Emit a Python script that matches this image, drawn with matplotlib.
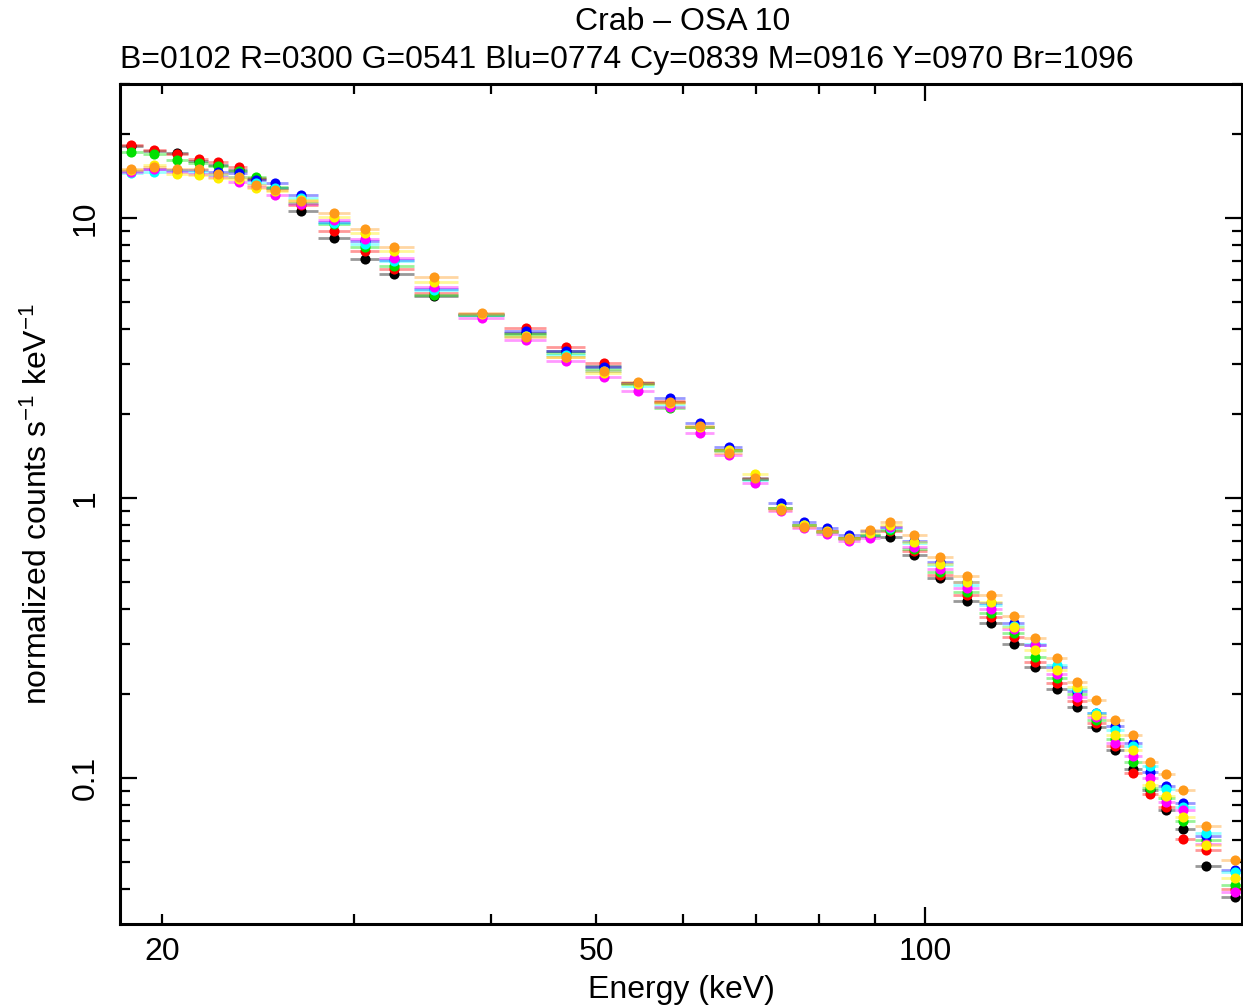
import numpy as np
import matplotlib
matplotlib.use("Agg")
import matplotlib.pyplot as plt
from matplotlib.ticker import FixedLocator, FuncFormatter, NullFormatter
from matplotlib.colors import to_rgba

plt.rcParams['font.family'] = ['Liberation Sans', 'DejaVu Sans']
plt.rcParams['mathtext.fontset'] = 'custom'
plt.rcParams['mathtext.rm'] = 'Liberation Sans'
plt.rcParams['mathtext.it'] = 'Liberation Sans:italic'
plt.rcParams['mathtext.bf'] = 'Liberation Sans:bold'

# ---------------- data ----------------
energy = [18.73, 19.67, 20.63, 21.6, 22.5, 23.5, 24.4, 25.4, 26.8, 28.76, 30.7, 32.6,
          35.5, 39.3, 43.1, 46.9, 50.8, 54.6, 58.4, 62.2, 66.1, 69.9, 73.8, 77.5,
          81.4, 85.3, 89.0, 92.9, 97.7, 103.3, 109.2, 115.0, 120.6, 126.3, 132.1,
          137.9, 143.6, 149.4, 155.3, 161.0, 166.5, 172.5, 181.0, 192.5]

black = [18.1, 17.4, 17.0, 16.0, 15.5, 14.8, 13.8, 12.8, 10.6, 8.5, 7.15, 6.3,
         5.25, 4.5, 3.9, 3.35, 2.95, 2.57, 2.2, 1.8, 1.48, 1.17, 0.92, 0.80,
         0.76, 0.72, 0.73, 0.724, 0.626, 0.516, 0.43, 0.357, 0.301, 0.25, 0.208,
         0.18, 0.152, 0.126, 0.108, 0.0906, 0.0769, 0.0658, 0.0486, 0.0377]
red = [18.3, 17.5, 16.9, 16.3, 15.9, 15.2, 13.9, 12.8, 11.1, 9.0, 7.6, 6.6,
       5.4, 4.55, 4.06, 3.47, 3.03, 2.58, 2.22, 1.8, 1.48, 1.17, 0.92, 0.80,
       0.76, 0.72, 0.74, 0.76, 0.645, 0.53, 0.45, 0.375, 0.318, 0.26, 0.218,
       0.188, 0.157, 0.13, 0.104, 0.088, 0.079, 0.0608, 0.0552, 0.040]
green = [17.2, 16.9, 16.1, 15.7, 15.3, 14.7, 14.0, 12.9, 11.3, 9.5, 7.9, 6.75,
         5.3, 4.5, 3.85, 3.3, 2.88, 2.55, 2.09, 1.8, 1.48, 1.17, 0.92, 0.80,
         0.755, 0.72, 0.74, 0.77, 0.66, 0.545, 0.46, 0.388, 0.33, 0.271, 0.227,
         0.20, 0.161, 0.138, 0.114, 0.092, 0.085, 0.070, 0.0603, 0.0415]
blue = [14.7, 15.0, 14.9, 14.9, 14.6, 14.5, 13.7, 13.3, 12.1, 9.7, 8.3, 7.1,
        5.6, 4.55, 3.95, 3.35, 2.93, 2.58, 2.27, 1.86, 1.52, 1.18, 0.957, 0.823,
        0.78, 0.738, 0.76, 0.79, 0.70, 0.59, 0.50, 0.42, 0.357, 0.298, 0.25,
        0.205, 0.171, 0.153, 0.133, 0.105, 0.094, 0.0815, 0.062, 0.047]
cyan = [14.5, 14.6, 14.7, 14.6, 14.2, 14.0, 13.3, 12.8, 11.8, 9.6, 8.1, 7.0,
        5.55, 4.5, 3.8, 3.25, 2.85, 2.52, 2.15, 1.8, 1.47, 1.16, 0.92, 0.80,
        0.755, 0.715, 0.74, 0.78, 0.69, 0.575, 0.49, 0.415, 0.35, 0.30, 0.254,
        0.208, 0.171, 0.148, 0.13, 0.110, 0.0911, 0.079, 0.0635, 0.0463]
magenta = [14.6, 15.0, 14.6, 14.4, 14.0, 13.5, 12.9, 12.1, 11.2, 9.85, 8.4, 7.2,
           5.65, 4.39, 3.66, 3.09, 2.71, 2.41, 2.12, 1.71, 1.43, 1.13, 0.90, 0.78,
           0.745, 0.70, 0.718, 0.79, 0.667, 0.56, 0.476, 0.401, 0.34, 0.298, 0.235,
           0.195, 0.165, 0.133, 0.12, 0.0997, 0.0823, 0.0769, 0.058, 0.0393]
yellow = [14.9, 15.4, 14.4, 14.3, 13.9, 13.8, 12.8, 12.5, 11.6, 10.1, 8.85, 7.6,
          5.9, 4.55, 3.78, 3.2, 2.8, 2.55, 2.18, 1.8, 1.48, 1.22, 0.92, 0.80,
          0.76, 0.72, 0.75, 0.80, 0.699, 0.581, 0.503, 0.426, 0.347, 0.287, 0.243,
          0.212, 0.168, 0.143, 0.126, 0.0944, 0.086, 0.0724, 0.0578, 0.0439]
orange = [15.0, 15.2, 15.0, 15.0, 14.4, 14.0, 13.1, 12.6, 11.5, 10.4, 9.1, 7.85,
          6.15, 4.57, 3.75, 3.19, 2.83, 2.60, 2.21, 1.81, 1.45, 1.18, 0.906, 0.79,
          0.758, 0.712, 0.769, 0.823, 0.738, 0.614, 0.527, 0.45, 0.379, 0.316, 0.268,
          0.221, 0.19, 0.161, 0.143, 0.114, 0.103, 0.0906, 0.0676, 0.0508]

series_names = ['B', 'R', 'G', 'Blu', 'Cy', 'M', 'Y', 'Br']
series_values = [black, red, green, blue, cyan, magenta, yellow, orange]
series_colors = ['#000000', '#ff0000', '#00e000', '#0000ff', '#00ffff',
                 '#ff00ff', '#ffee00', '#ff9a1a']

title1 = 'Crab \u2013 OSA 10'
title2 = 'B=0102 R=0300 G=0541 Blu=0774 Cy=0839 M=0916 Y=0970 Br=1096'
xlabel = 'Energy (keV)'
ylabel = r'normalized counts s$^{\mathregular{-1}}$ keV$^{\mathregular{-1}}$'

# ---------------- figure ----------------
W, H = 1243, 1005
fig = plt.figure(figsize=(W / 100, H / 100), dpi=100)
ax = fig.add_axes([120 / W, 1 - 924 / H, (1242 - 120) / W, (924 - 84) / H])

E = np.array(energy)
logE = np.log10(E)
mids = 10 ** ((logE[:-1] + logE[1:]) / 2)
lo_edge = np.concatenate([[E[0] ** 2 / mids[0]], mids])
hi_edge = np.concatenate([mids, [E[-1] ** 2 / mids[-1]]])
xerr = [E - lo_edge, hi_edge - E]

for vals, col in zip(series_values, series_colors):
    ecol = to_rgba(col, 0.4)
    ax.errorbar(E, vals, xerr=xerr, fmt='o', color=col, ecolor=ecol,
                elinewidth=2.0, markersize=7.3, markeredgewidth=0, capsize=0)

ax.set_xscale('log')
ax.set_yscale('log')
ax.set_xlim(18.3, 195.3)
ax.set_ylim(0.0301, 30.1)

fs = 23
# x ticks
ax.xaxis.set_major_locator(FixedLocator([100]))
ax.xaxis.set_minor_locator(FixedLocator([20, 30, 40, 50, 60, 70, 80, 90]))
ax.xaxis.set_major_formatter(FuncFormatter(lambda v, p: '%g' % v))
ax.xaxis.set_minor_formatter(FuncFormatter(lambda v, p: ('%g' % v) if round(v) in (20, 50) else ''))
# y ticks
ax.yaxis.set_major_locator(FixedLocator([0.1, 1, 10]))
yminor = [m * 10.0 ** d for d in (-2, -1, 0, 1) for m in range(2, 10)]
ax.yaxis.set_minor_locator(FixedLocator(yminor))
ax.yaxis.set_major_formatter(FuncFormatter(lambda v, p: '%g' % v))
ax.yaxis.set_minor_formatter(NullFormatter())

ax.tick_params(which='both', direction='in', top=True, right=True, width=1.6,
               labelsize=fs, colors='black')
ax.tick_params(which='major', length=12)
ax.tick_params(which='minor', length=7)
ax.tick_params(axis='x', which='both', pad=9)
ax.tick_params(axis='y', which='both', pad=14)
for lab in ax.get_yticklabels():
    lab.set_rotation(90)
    lab.set_va('center')

for s in ax.spines.values():
    s.set_linewidth(2.2)

ax.set_xlabel(xlabel, fontsize=fs, labelpad=6)
ax.set_ylabel(ylabel, fontsize=fs, labelpad=12)

fig.text(683 / W, 1 - 22 / H, title1, fontsize=fs, ha='center', va='center')
fig.text(627 / W, 1 - 60 / H, title2, fontsize=fs, ha='center', va='center')

fig.savefig('out.png', dpi=100)
